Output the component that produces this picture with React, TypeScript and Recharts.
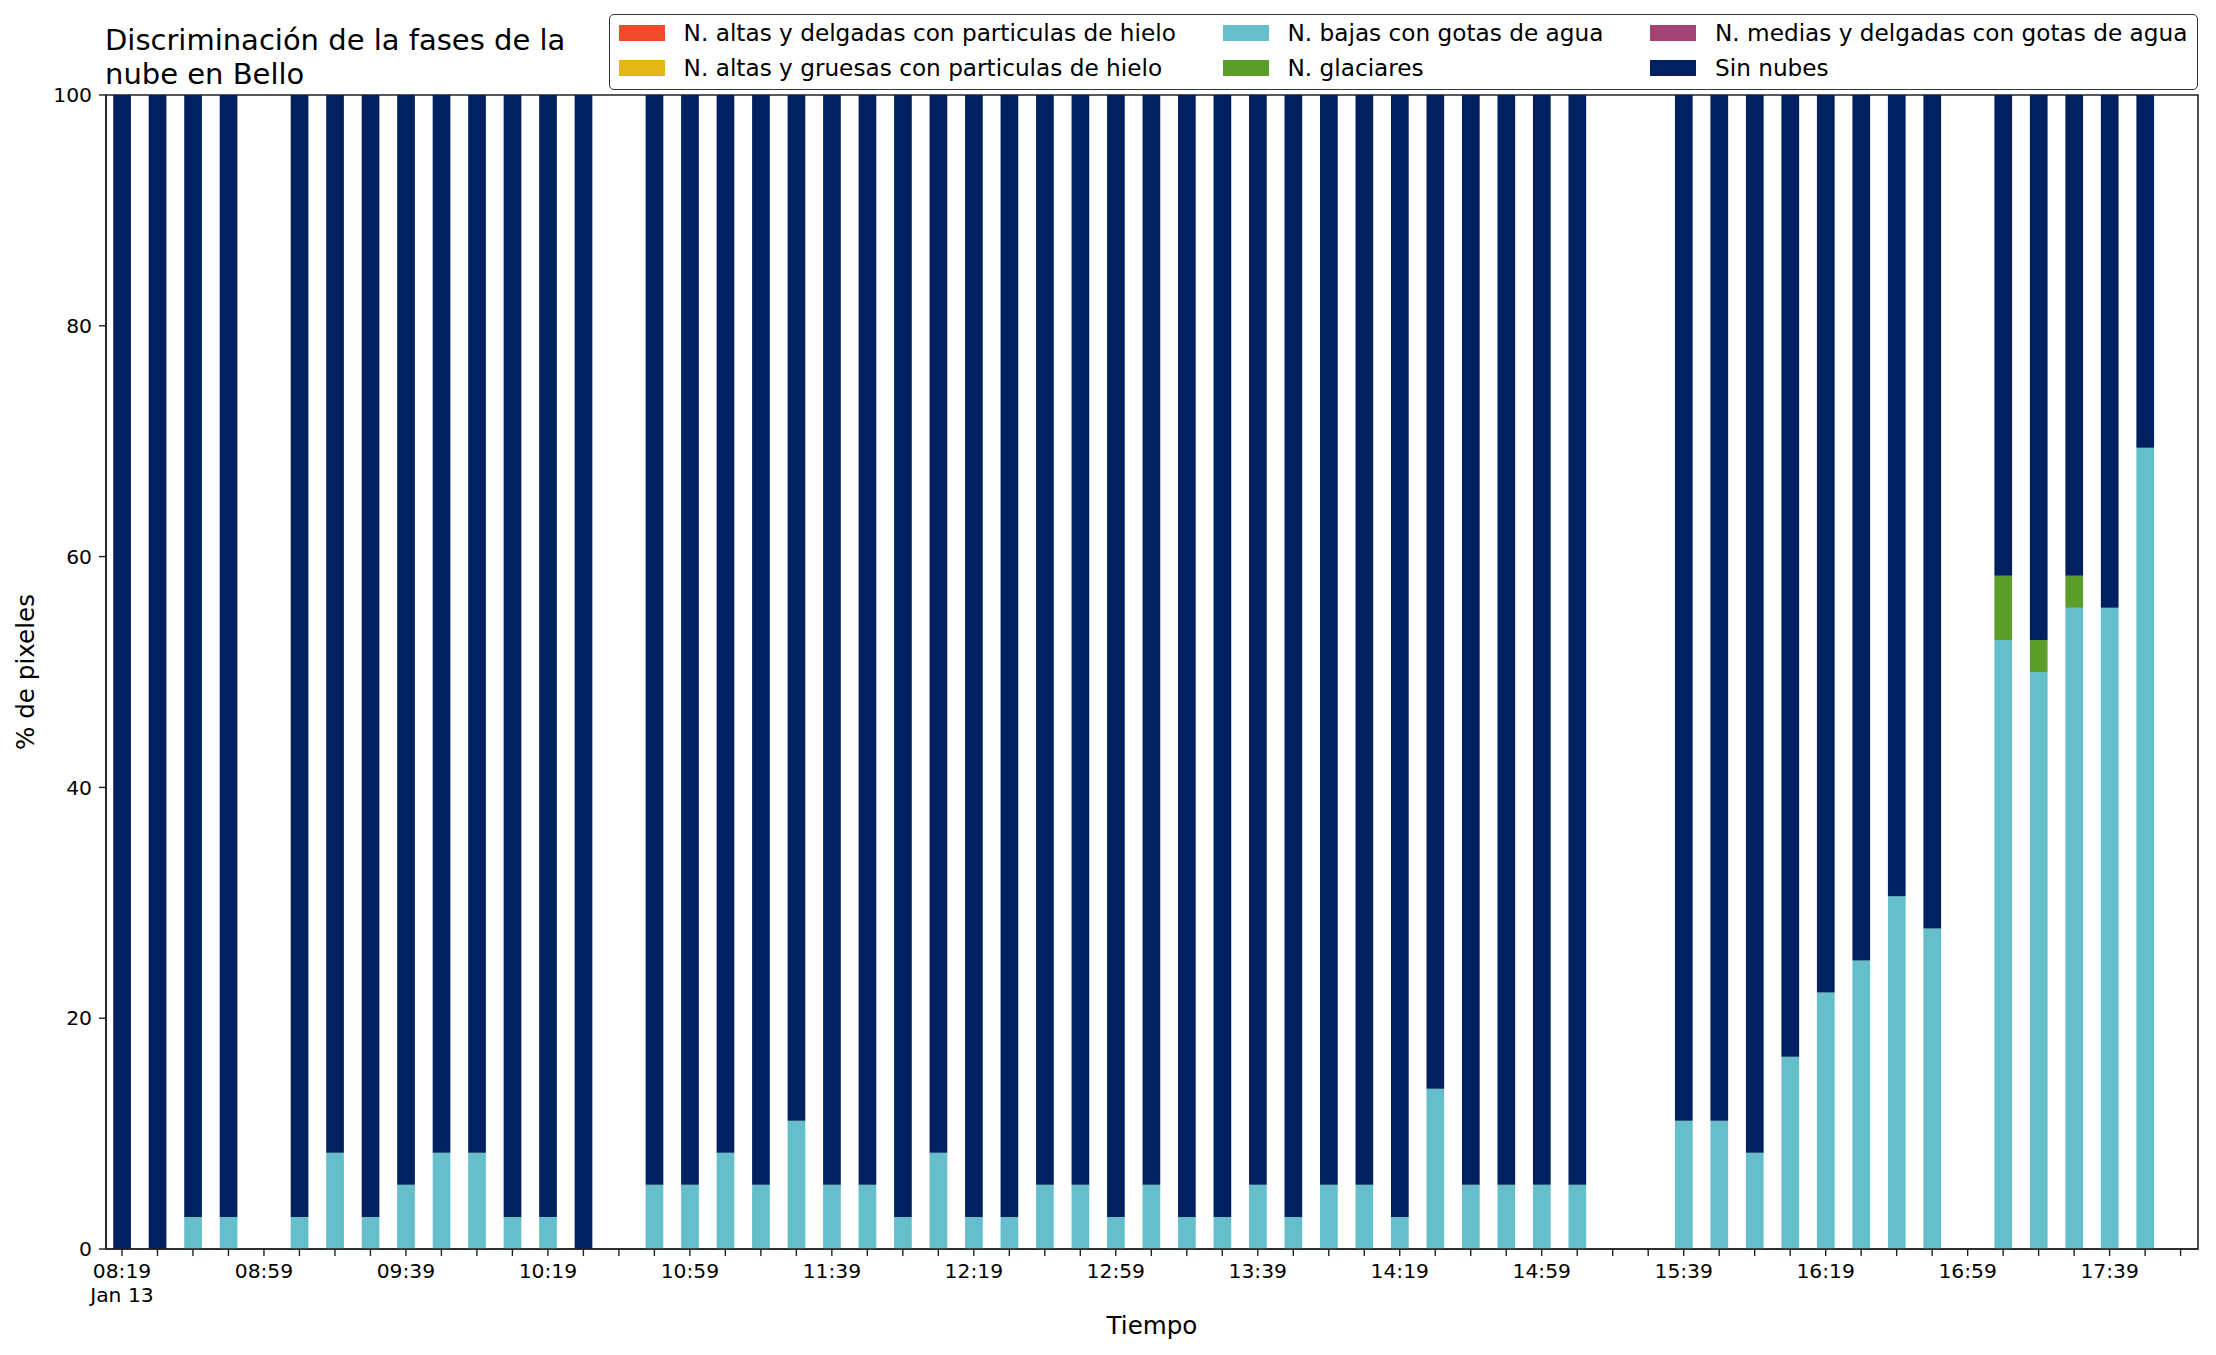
import { BarChart, Bar, XAxis, YAxis, Legend, ReferenceArea } from 'recharts';

// 10-minute samples (missing samples simply left out)
const times = [
  '08:19', '08:29', '08:39', '08:49',
  '09:09', '09:19', '09:29', '09:39', '09:49', '09:59', '10:09', '10:19', '10:29',
  '10:49', '10:59', '11:09', '11:19', '11:29', '11:39', '11:49', '11:59', '12:09',
  '12:19', '12:29', '12:39', '12:49', '12:59', '13:09', '13:19', '13:29', '13:39',
  '13:49', '13:59', '14:09', '14:19', '14:29', '14:39', '14:49', '14:59', '15:09',
  '15:39', '15:49', '15:59', '16:09', '16:19', '16:29', '16:39', '16:49',
  '17:09', '17:19', '17:29', '17:39', '17:49',
];

const altasDelgadas = [
  0, 0, 0, 0,
  0, 0, 0, 0, 0, 0, 0, 0, 0,
  0, 0, 0, 0, 0, 0, 0, 0, 0, 0, 0, 0, 0, 0, 0, 0, 0, 0, 0, 0, 0, 0, 0, 0, 0, 0, 0,
  0, 0, 0, 0, 0, 0, 0, 0,
  0, 0, 0, 0, 0,
];

const altasGruesas = [
  0, 0, 0, 0,
  0, 0, 0, 0, 0, 0, 0, 0, 0,
  0, 0, 0, 0, 0, 0, 0, 0, 0, 0, 0, 0, 0, 0, 0, 0, 0, 0, 0, 0, 0, 0, 0, 0, 0, 0, 0,
  0, 0, 0, 0, 0, 0, 0, 0,
  0, 0, 0, 0, 0,
];

const bajas = [
  0, 0, 2.78, 2.78,
  2.78, 8.33, 2.78, 5.56, 8.33, 8.33, 2.78, 2.78, 0,
  5.56, 5.56, 8.33, 5.56, 11.11, 5.56, 5.56, 2.78, 8.33,
  2.78, 2.78, 5.56, 5.56, 2.78, 5.56, 2.78, 2.78, 5.56,
  2.78, 5.56, 5.56, 2.78, 13.89, 5.56, 5.56, 5.56, 5.56,
  11.11, 11.11, 8.33, 16.67, 22.22, 25, 30.56, 27.78,
  52.78, 50, 55.56, 55.56, 69.44,
];

const glaciares = [
  0, 0, 0, 0,
  0, 0, 0, 0, 0, 0, 0, 0, 0,
  0, 0, 0, 0, 0, 0, 0, 0, 0, 0, 0, 0, 0, 0, 0, 0, 0, 0, 0, 0, 0, 0, 0, 0, 0, 0, 0,
  0, 0, 0, 0, 0, 0, 0, 0,
  5.56, 2.78, 2.78, 0, 0,
];

const mediasDelgadas = [
  0, 0, 0, 0,
  0, 0, 0, 0, 0, 0, 0, 0, 0,
  0, 0, 0, 0, 0, 0, 0, 0, 0, 0, 0, 0, 0, 0, 0, 0, 0, 0, 0, 0, 0, 0, 0, 0, 0, 0, 0,
  0, 0, 0, 0, 0, 0, 0, 0,
  0, 0, 0, 0, 0,
];

const sinNubes = [
  100, 100, 97.22, 97.22,
  97.22, 91.67, 97.22, 94.44, 91.67, 91.67, 97.22, 97.22, 100,
  94.44, 94.44, 91.67, 94.44, 88.89, 94.44, 94.44, 97.22, 91.67,
  97.22, 97.22, 94.44, 94.44, 97.22, 94.44, 97.22, 97.22, 94.44,
  97.22, 94.44, 94.44, 97.22, 86.11, 94.44, 94.44, 94.44, 94.44,
  88.89, 88.89, 91.67, 83.33, 77.78, 75, 69.44, 72.22,
  41.66, 47.22, 41.66, 44.44, 30.56,
];

const xTickLabels = [
  '08:19', '08:59', '09:39', '10:19', '10:59', '11:39', '12:19', '12:59',
  '13:39', '14:19', '14:59', '15:39', '16:19', '16:59', '17:39',
];
const firstTickDate = 'Jan 13';
const yTicks = [0, 20, 40, 60, 80, 100];

const series = [
  { key: 'altasDelgadas', name: 'N. altas y delgadas con particulas de hielo', color: '#F04A2B', values: altasDelgadas },
  { key: 'altasGruesas', name: 'N. altas y gruesas con particulas de hielo', color: '#E4B716', values: altasGruesas },
  { key: 'bajas', name: 'N. bajas con gotas de agua', color: '#64BFCA', values: bajas },
  { key: 'glaciares', name: 'N. glaciares', color: '#5B9E29', values: glaciares },
  { key: 'mediasDelgadas', name: 'N. medias y delgadas con gotas de agua', color: '#A24373', values: mediasDelgadas },
  { key: 'sinNubes', name: 'Sin nubes', color: '#00205F', values: sinNubes },
];

const toMin = (s: string) => {
  const [h, m] = s.split(':').map(Number);
  return h * 60 + m;
};

const data = times.map((t, i) => {
  const row: Record<string, number> = { t: toMin(t) };
  series.forEach((s) => {
    row[s.key] = s.values[i];
  });
  return row;
});

// minor ticks every 10 minutes, labels every 40
const tickStart = toMin('08:19');
const tickEnd = toMin('17:59');
const xTicks: number[] = [];
for (let m = tickStart; m <= tickEnd; m += 10) xTicks.push(m);
const labelled = new Set(xTickLabels.map(toMin));
const xDomain = [494.5, 1083.9];

const FONT = 'DejaVu Sans, sans-serif';
const AXIS = '#222';

const fmt = (m: number) =>
  `${String(Math.floor(m / 60)).padStart(2, '0')}:${String(m % 60).padStart(2, '0')}`;

const TimeTick = (props: any) => {
  const { x, y, payload } = props;
  const v = payload.value as number;
  if (!labelled.has(v)) return null;
  return (
    <g transform={`translate(${x},${y})`}>
      <text textAnchor="middle" fontSize={20.3} fontFamily={FONT} fill="#000">
        <tspan x={0} dy={22}>{fmt(v)}</tspan>
        {v === tickStart && <tspan x={0} dy={24.4}>{firstTickDate}</tspan>}
      </text>
    </g>
  );
};

const LegendBox = () => (
  <div
    style={{
      boxSizing: 'border-box',
      width: 1589,
      height: 76,
      border: '1.8px solid #333',
      borderRadius: 5,
      background: 'rgba(255,255,255,0.8)',
      padding: '6px 9px',
      display: 'grid',
      gridTemplateRows: '23px 23px',
      gridAutoFlow: 'column',
      columnGap: 47,
      rowGap: 12,
      fontFamily: FONT,
      fontSize: 23.2,
      color: '#000',
      justifyContent: 'start',
    }}
  >
    {series.map((s) => (
      <div key={s.key} style={{ display: 'flex', alignItems: 'center', whiteSpace: 'nowrap' }}>
        <span style={{ width: 46, height: 16, background: s.color, marginRight: 18.6, flex: 'none' }} />
        <span style={{ lineHeight: '23px' }}>{s.name}</span>
      </div>
    ))}
  </div>
);

export default function App() {
  return (
    <div style={{ position: 'absolute', left: 0, top: 0, width: 2216, height: 1355, background: '#fff' }}>
      <div
        style={{
          position: 'absolute',
          left: 105,
          top: 23,
          fontFamily: FONT,
          fontSize: 29,
          lineHeight: '34px',
          color: '#000',
          whiteSpace: 'nowrap',
        }}
      >
        Discriminación de la fases de la
        <br />
        nube en Bello
      </div>
      <div
        style={{
          position: 'absolute',
          left: 26,
          top: 672,
          transform: 'translate(-50%, -50%) rotate(-90deg)',
          fontFamily: FONT,
          fontSize: 24.6,
          lineHeight: '24.6px',
          whiteSpace: 'nowrap',
          color: '#000',
        }}
      >
        % de pixeles
      </div>
      <div
        style={{
          position: 'absolute',
          left: 1152,
          top: 1314,
          transform: 'translateX(-50%)',
          fontFamily: FONT,
          fontSize: 24.6,
          lineHeight: '24.6px',
          whiteSpace: 'nowrap',
          color: '#000',
        }}
      >
        Tiempo
      </div>
      <BarChart
        width={2216}
        height={1355}
        data={data}
        margin={{ top: 95, right: 18, bottom: 46, left: 0 }}
        barSize={17.7}
      >
        <XAxis
          dataKey="t"
          type="number"
          domain={xDomain}
          allowDataOverflow
          ticks={xTicks}
          interval={0}
          height={60}
          tickSize={7}
          tickMargin={0}
          tick={<TimeTick />}
          axisLine={{ stroke: AXIS, strokeWidth: 1.6 }}
          tickLine={{ stroke: AXIS, strokeWidth: 1.4 }}
        />
        <YAxis
          type="number"
          domain={[0, 100]}
          allowDataOverflow
          ticks={yTicks}
          interval={0}
          width={106}
          tickSize={7}
          tickMargin={7}
          tick={{ fontSize: 20.3, fontFamily: FONT, fill: '#000' }}
          axisLine={{ stroke: AXIS, strokeWidth: 1.6 }}
          tickLine={{ stroke: AXIS, strokeWidth: 1.4 }}
        />
        <Legend
          layout="vertical"
          align="center"
          verticalAlign="middle"
          wrapperStyle={{ left: 609, top: 14, width: 'auto', height: 'auto' }}
          content={() => <LegendBox />}
        />
        {series.map((s) => (
          <Bar
            key={s.key}
            dataKey={s.key}
            name={s.name}
            stackId="fases"
            fill={s.color}
            isAnimationActive={false}
          />
        ))}
        <ReferenceArea
          x1={xDomain[0]}
          x2={xDomain[1]}
          y1={0}
          y2={100}
          fill="none"
          fillOpacity={0}
          stroke={AXIS}
          strokeWidth={1.6}
          ifOverflow="visible"
        />
      </BarChart>
    </div>
  );
}
